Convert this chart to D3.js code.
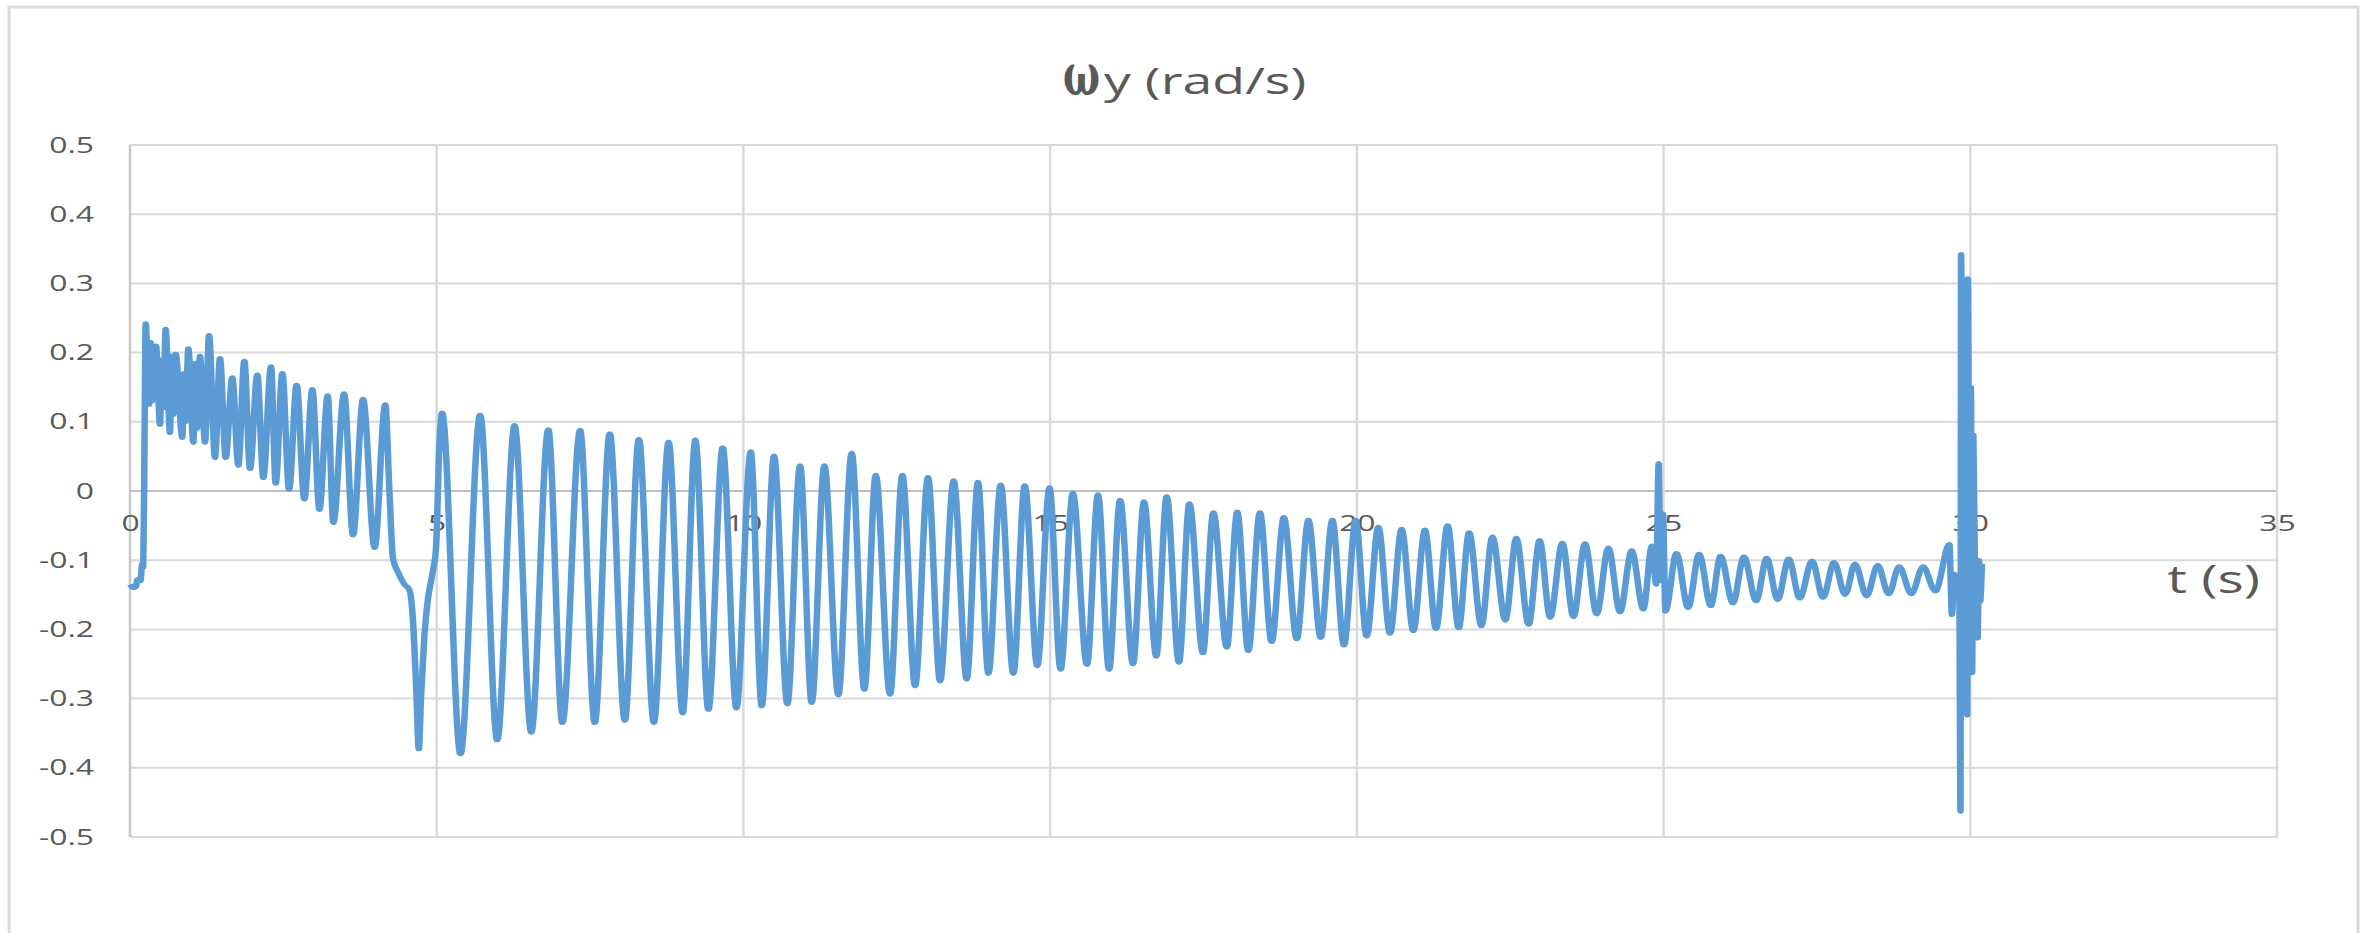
<!DOCTYPE html>
<html>
<head>
<meta charset="utf-8">
<script src="https://cdn.jsdelivr.net/npm/d3@7"></script>
<style>
  body { margin: 0; background: #fff; }
  text { font-family: 'Open Sans', sans-serif; fill: #595959; }
</style>
</head>
<body>
<div id="chart"></div>
<script>
// axis ticks and their labels
let xTicks = [0, 5, 10, 15, 20, 25, 30, 35];
let xTickLabels = ['0', '5', '10', '15', '20', '25', '30', '35'];
let yTicks = [0.5, 0.4, 0.3, 0.2, 0.1, 0, -0.1, -0.2, -0.3, -0.4, -0.5];
let yTickLabels = ['0.5', '0.4', '0.3', '0.2', '0.1', '0', '-0.1', '-0.2', '-0.3', '-0.4', '-0.5'];

// time (s) and angular rate wy (rad/s) (peaks, troughs, kinks)
let tSec = [
  0.00, 0.06, 0.10, 0.12, 0.17, 0.20, 0.215, 0.23, 0.256, 0.310, 0.335, 0.360, 0.424, 0.489, 0.520, 0.545,
  0.581, 0.652, 0.680, 0.705, 0.745, 0.853, 0.880, 0.905, 0.951, 1.033, 1.065, 1.090, 1.141, 1.223, 1.288, 1.386,
  1.467, 1.560, 1.668, 1.766, 1.864, 1.956, 2.076, 2.173, 2.299, 2.375, 2.484, 2.593, 2.717, 2.842, 2.973, 3.087,
  3.223, 3.315, 3.490, 3.636, 3.799, 3.988, 4.161, 4.232, 4.286, 4.367, 4.475, 4.556, 4.610, 4.665, 4.708, 4.746,
  4.800, 4.854, 4.935, 4.989, 5.043, 5.087,
  5.387, 5.708, 5.986, 6.269, 6.541, 6.819, 7.048, 7.337, 7.576, 7.821, 8.066, 8.295, 8.540, 8.780, 9.009, 9.216,
  9.428, 9.662, 9.885, 10.119, 10.298, 10.499, 10.716, 10.923, 11.113, 11.319, 11.547, 11.765, 11.971, 12.157,
  12.390, 12.591, 12.798, 13.009, 13.205, 13.428, 13.640, 13.824, 13.993, 14.194, 14.400, 14.586, 14.790, 14.990,
  15.170, 15.370, 15.600, 15.780, 15.960, 16.140, 16.350, 16.530, 16.730, 16.900, 17.100, 17.270, 17.490, 17.660,
  17.880, 18.050, 18.230, 18.420, 18.610, 18.810, 19.020, 19.210, 19.410, 19.600, 19.790, 19.980, 20.160, 20.350,
  20.540, 20.730, 20.920, 21.110, 21.290, 21.480, 21.660, 21.830, 22.030, 22.210, 22.420, 22.600, 22.800, 22.980,
  23.150, 23.350, 23.530, 23.720, 23.910, 24.100, 24.290, 24.480, 24.670, 24.810, 24.880, 24.920, 24.950, 24.990,
  25.030, 25.210, 25.400, 25.580, 25.770, 25.930, 26.130, 26.310, 26.510, 26.680, 26.860, 27.040, 27.220, 27.420,
  27.600, 27.780, 27.960, 28.120, 28.310, 28.490, 28.670, 28.840, 29.040, 29.230, 29.430, 29.660, 29.700, 29.740,
  29.780, 29.820, 29.840, 29.850, 29.900, 29.950, 29.960, 29.990, 30.010, 30.030, 30.050, 30.080, 30.120, 30.140,
  30.160, 30.190
];
let omegaY = [
  -0.135, -0.140, -0.138, -0.128, -0.130, -0.105, -0.110, 0.000, 0.242, 0.125, 0.215, 0.130, 0.210, 0.096, 0.190, 0.120,
  0.234, 0.084, 0.195, 0.110, 0.198, 0.077, 0.170, 0.100, 0.206, 0.070, 0.185, 0.090, 0.195, 0.070, 0.225, 0.048,
  0.192, 0.048, 0.164, 0.037, 0.188, 0.032, 0.168, 0.019, 0.180, 0.011, 0.170, 0.002, 0.153, -0.012, 0.147, -0.027,
  0.138, -0.046, 0.141, -0.064, 0.133, -0.082, 0.125, -0.006, -0.097, -0.117, -0.135, -0.143, -0.183, -0.284, -0.373, -0.294,
  -0.208, -0.158, -0.117, -0.082, 0.065, 0.113,
  -0.380, 0.110, -0.360, 0.095, -0.349, 0.089, -0.335, 0.088, -0.335, 0.083, -0.332, 0.075, -0.335, 0.071, -0.321, 0.074,
  -0.316, 0.063, -0.314, 0.057, -0.311, 0.051, -0.308, 0.037, -0.306, 0.037, -0.295, 0.055, -0.287, 0.023,
  -0.294, 0.023, -0.282, 0.020, -0.275, 0.015, -0.272, 0.013, -0.264, 0.009, -0.264, 0.008, -0.253, 0.005,
  -0.258, -0.003, -0.251, -0.005, -0.258, -0.013, -0.250, -0.015, -0.239, -0.008, -0.248, -0.018, -0.234, -0.031,
  -0.226, -0.030, -0.231, -0.031, -0.218, -0.038, -0.214, -0.042, -0.212, -0.042, -0.223, -0.042, -0.210, -0.052,
  -0.206, -0.055, -0.202, -0.056, -0.199, -0.050, -0.198, -0.060, -0.195, -0.066, -0.187, -0.068, -0.193, -0.071,
  -0.183, -0.075, -0.182, -0.076, -0.178, -0.082, -0.175, -0.086, -0.171, -0.079, -0.135, 0.040, -0.130, -0.033,
  -0.174, -0.090, -0.169, -0.091, -0.166, -0.094, -0.162, -0.095, -0.159, -0.097, -0.157, -0.098, -0.155, -0.101,
  -0.154, -0.103, -0.150, -0.105, -0.152, -0.107, -0.149, -0.109, -0.149, -0.109, -0.145, -0.077, -0.179, -0.120,
  -0.150, -0.130, -0.463, 0.342, -0.020, -0.324, 0.307, -0.150, 0.150, -0.263, 0.081, -0.150, -0.213, -0.100,
  -0.160, -0.105
];

let W = 2372, H = 933;
let margin = {top: 145, left: 130, right: 95, bottom: 96},
  width = W - margin.left - margin.right,
  height = H - margin.top - margin.bottom,
  sx = 1.45; // the picture is stretched sideways, text and line follow it

let svg = d3.select('#chart')
  .append('svg')
    .attr('width', W)
    .attr('height', H);

// chart frame
svg.append('rect')
  .attr('x', 9)
  .attr('y', 7)
  .attr('width', 2349)
  .attr('height', 980)
  .style('fill', 'none')
  .style('stroke', '#d9d9d9')
  .style('stroke-width', 3);

let g = svg.append('g')
  .attr('transform', 'translate(' + margin.left + ',' + margin.top + ')');

let x = d3.scaleLinear().domain([0, 35]).range([0, width]);
let y = d3.scaleLinear().domain([-0.5, 0.5]).range([height, 0]);

// gridlines
g.selectAll('.hgrid').data(yTicks)
  .enter()
  .append('line')
    .attr('class', 'hgrid')
    .attr('x1', 0)
    .attr('x2', width)
    .attr('y1', d => y(d))
    .attr('y2', d => y(d))
    .style('stroke', d => d === 0 ? '#bfbfbf' : '#d9d9d9')
    .style('stroke-width', 2);

g.selectAll('.vgrid').data(xTicks)
  .enter()
  .append('line')
    .attr('class', 'vgrid')
    .attr('x1', d => x(d))
    .attr('x2', d => x(d))
    .attr('y1', 0)
    .attr('y2', height)
    .style('stroke', d => d === 0 ? '#c8c8c8' : '#d9d9d9')
    .style('stroke-width', 2.5);

// y axis labels
let yAxis = g.append('g')
  .style('font-size', '22px')
  .call(d3.axisLeft(y).tickValues(yTicks).tickFormat((d, i) => yTickLabels[i]).tickSize(0).tickPadding(36));
yAxis.select('.domain').remove();
yAxis.selectAll('text')
  .attr('x', -36 / sx)
  .attr('transform', 'scale(' + sx + ',1)')
  .style('fill', '#595959');

// x axis labels sit under the zero line
let xAxis = g.append('g')
  .attr('transform', 'translate(0,' + y(0) + ')')
  .style('font-size', '22px')
  .call(d3.axisBottom(x).tickValues(xTicks).tickFormat((d, i) => xTickLabels[i]).tickSize(0).tickPadding(24));
xAxis.select('.domain').remove();
xAxis.selectAll('text')
  .attr('transform', 'scale(' + sx + ',1)')
  .style('fill', '#595959');

// the series, drawn in a squeezed frame then stretched so the stroke widens sideways
let pts = tSec.map((t, i) => [t, omegaY[i]]);
let line = d3.line()
  .x(d => x(d[0]) / sx)
  .y(d => y(d[1]))
  .curve(d3.curveMonotoneX);

g.append('g')
  .attr('transform', 'scale(' + sx + ',1)')
  .append('path')
    .datum(pts)
    .attr('d', line)
    .style('fill', 'none')
    .style('stroke', '#5b9bd5')
    .style('stroke-width', 4.5)
    .style('stroke-linejoin', 'round');

// title: big omega squeezed to its width in the picture, then the rest
let omegaG = svg.append('g');
let omega = omegaG.append('text')
  .style('font-family', "'DejaVu Serif', serif")
  .style('font-weight', 'bold')
  .style('font-size', '58px')
  .text('ω');
let k = 37 / omega.node().getComputedTextLength();
omegaG.attr('transform', 'translate(1063,95) scale(' + k + ',1)');

svg.append('g')
  .attr('transform', 'translate(1104,94) scale(' + sx + ',1)')
  .append('text')
    .style('font-size', '37px')
    .text('y (rad/s)');

// x axis title
svg.append('g')
  .attr('transform', 'translate(2260,593) scale(' + sx + ',1)')
  .append('text')
    .style('font-size', '38px')
    .style('text-anchor', 'end')
    .text('t (s)');
</script>
</body>
</html>
